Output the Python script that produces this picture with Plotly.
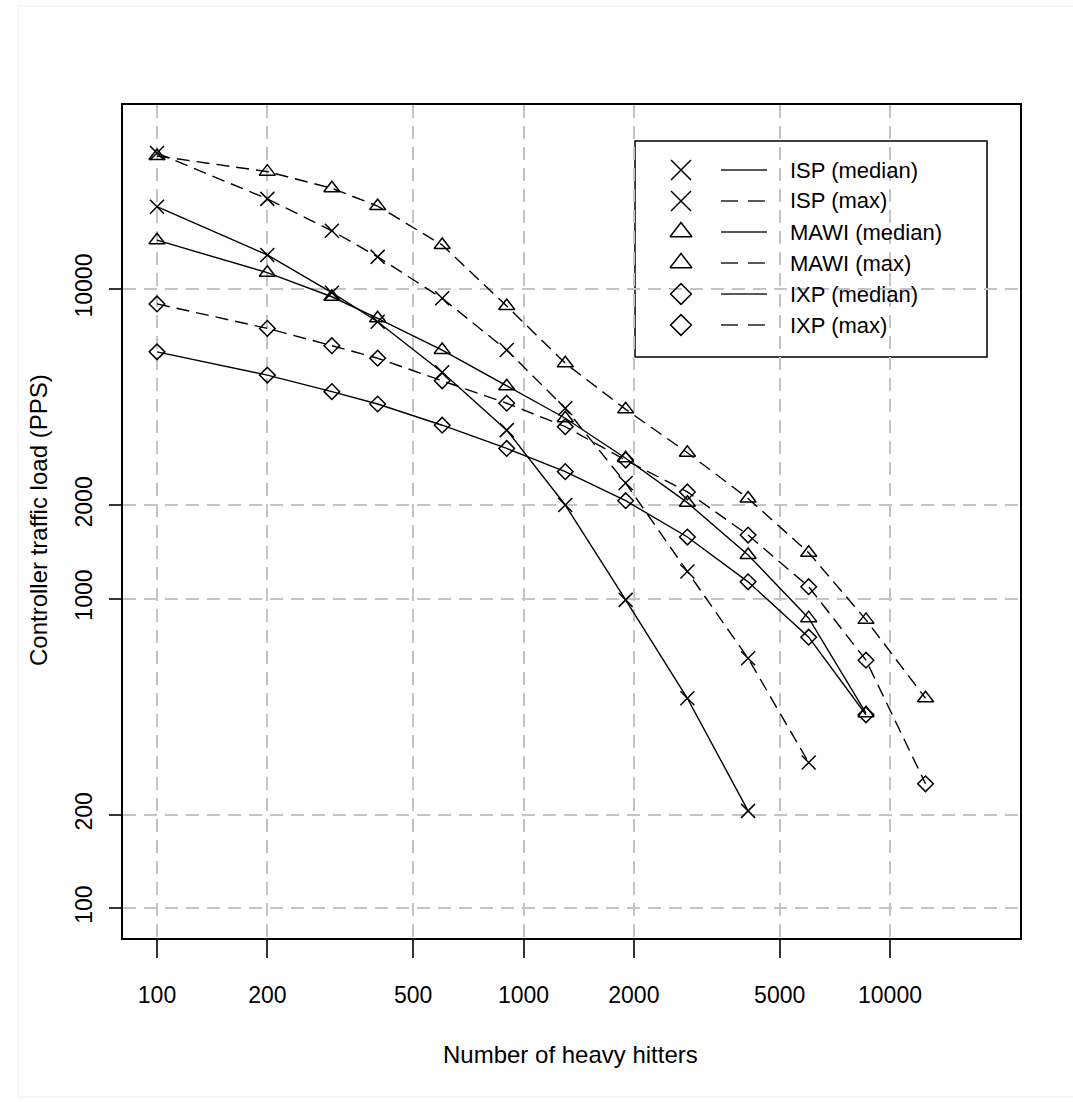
import plotly.graph_objects as go

# ---- data ----
heavy_hitters = [100, 200, 300, 400, 600, 900, 1300, 1900, 2800, 4100, 6000, 8600, 12500]

isp_median = [18450, 12880, 9730, 7840, 5380, 3500, 2005, 990, 476, 206]
isp_max = [27500, 19550, 15420, 12700, 9330, 6350, 4120, 2360, 1222, 641, 295]
mawi_median = [14380, 11290, 9440, 8040, 6350, 4850, 3823, 2838, 2040, 1383, 864, 426]
mawi_max = [26900, 23940, 21150, 18530, 13870, 8810, 5755, 4085, 2958, 2105, 1406, 853, 476]
ixp_median = [6265, 5270, 4660, 4250, 3630, 3054, 2570, 2070, 1580, 1132, 750, 421]
ixp_max = [8950, 7460, 6560, 5975, 5050, 4275, 3590, 2801, 2210, 1603, 1092, 632, 252]

x_ticks = [100, 200, 500, 1000, 2000, 5000, 10000]
y_ticks = [100, 200, 1000, 2000, 10000]

series = [
    ("ISP (median)", isp_median, "x-thin-open", "solid"),
    ("ISP (max)", isp_max, "x-thin-open", "dash"),
    ("MAWI (median)", mawi_median, "triangle-up-open", "solid"),
    ("MAWI (max)", mawi_max, "triangle-up-open", "dash"),
    ("IXP (median)", ixp_median, "diamond-open", "solid"),
    ("IXP (max)", ixp_max, "diamond-open", "dash"),
]

W, H = 1073, 1102
L, R, T, B = 123, 1020, 105, 938  # plot area in pixels
FONT = "Liberation Sans, Arial, Helvetica, sans-serif"


def px(xp):
    return (xp - L) / (R - L)


def py(yp):
    return (B - yp) / (B - T)


DASH = "13px,7px"
marker_size = {"x-thin-open": 14, "triangle-up-open": 14, "diamond-open": 12}

fig = go.Figure()
for name, vals, sym, dash in series:
    fig.add_trace(go.Scatter(
        x=heavy_hitters[:len(vals)], y=vals, mode="lines+markers", name=name,
        line=dict(color="black", width=1.4, dash=DASH if dash == "dash" else "solid"),
        marker=dict(symbol=sym, size=marker_size[sym], color="black",
                    line=dict(color="black", width=1.5)),
        showlegend=False,
    ))

# ---- manual legend (R style: symbol, line sample, label) ----
shapes = []
annotations = []
leg_rows = [170, 201, 232, 263, 294, 325]
shapes.append(dict(type="rect", xref="paper", yref="paper",
                   x0=px(635), x1=px(987), y0=py(357), y1=py(141),
                   line=dict(color="black", width=1.5), fillcolor="white", layer="between"))
leg_marker_size = {"x-thin-open": 20, "triangle-up-open": 19, "diamond-open": 16}
for (name, vals, sym, dash), yr in zip(series, leg_rows):
    fig.add_trace(go.Scatter(
        x=[px(681)], y=[py(yr)], xaxis="x2", yaxis="y2", mode="markers",
        marker=dict(symbol=sym, size=leg_marker_size[sym], color="black",
                    line=dict(color="black", width=1.5)),
        showlegend=False, hoverinfo="skip",
    ))
    shapes.append(dict(type="line", xref="paper", yref="paper",
                       x0=px(721), x1=px(767), y0=py(yr), y1=py(yr),
                       line=dict(color="#222222", width=1.4,
                                 dash="17px,10px" if dash == "dash" else "solid"),
                       layer="above"))
    annotations.append(dict(text=name, xref="paper", yref="paper",
                            x=px(788), y=py(yr), xanchor="left", yanchor="middle",
                            showarrow=False, font=dict(size=22, color="black", family=FONT)))

# faint outer frame
shapes.append(dict(type="rect", xref="paper", yref="paper",
                   x0=px(18), x1=px(1085), y0=py(1097), y1=py(6),
                   line=dict(color="#eeeeee", width=1), layer="below"))

# axis titles
annotations.append(dict(text="Number of heavy hitters", xref="paper", yref="paper",
                        x=px(570), y=py(1054), xanchor="center", yanchor="middle",
                        showarrow=False, font=dict(size=24, color="black", family=FONT)))
annotations.append(dict(text="Controller traffic load (PPS)", xref="paper", yref="paper",
                        x=px(38), y=py(520), xanchor="center", yanchor="middle", textangle=-90,
                        showarrow=False, font=dict(size=24, color="black", family=FONT)))

grid = dict(showgrid=True, gridcolor="#c4c4c4", gridwidth=2, griddash="13px,8px")

fig.update_layout(
    width=W, height=H,
    margin=dict(l=L, r=W - R, t=T, b=H - B),
    paper_bgcolor="white", plot_bgcolor="white",
    font=dict(family=FONT, color="black", size=24),
    showlegend=False,
    xaxis=dict(type="log", range=[2 - 34 / 366.5, 2 + 863 / 366.5],
               tickvals=x_ticks, ticktext=[str(v) for v in x_ticks],
               ticks="outside", ticklen=18, tickwidth=1.5, tickcolor="#333333",
               ticklabelstandoff=18,
               showline=True, mirror=True, linecolor="black", linewidth=1.6,
               tickfont=dict(size=23, family=FONT), zeroline=False, **grid),
    yaxis=dict(type="log", range=[2 - 30 / 309.5, 4 + 184 / 309.5],
               tickvals=y_ticks, ticktext=[str(v) for v in y_ticks], tickangle=-90,
               ticks="outside", ticklen=12, tickwidth=1.5, tickcolor="#333333",
               ticklabelstandoff=8,
               showline=True, mirror=True, linecolor="black", linewidth=1.6,
               tickfont=dict(size=23, family=FONT), zeroline=False, **grid),
    xaxis2=dict(overlaying="x", range=[0, 1], visible=False, fixedrange=True),
    yaxis2=dict(overlaying="y", range=[0, 1], visible=False, fixedrange=True),
    shapes=shapes,
    annotations=annotations,
)

fig.write_html("out.html", config={"displayModeBar": False},
               post_script="document.body.style.margin='0';")
